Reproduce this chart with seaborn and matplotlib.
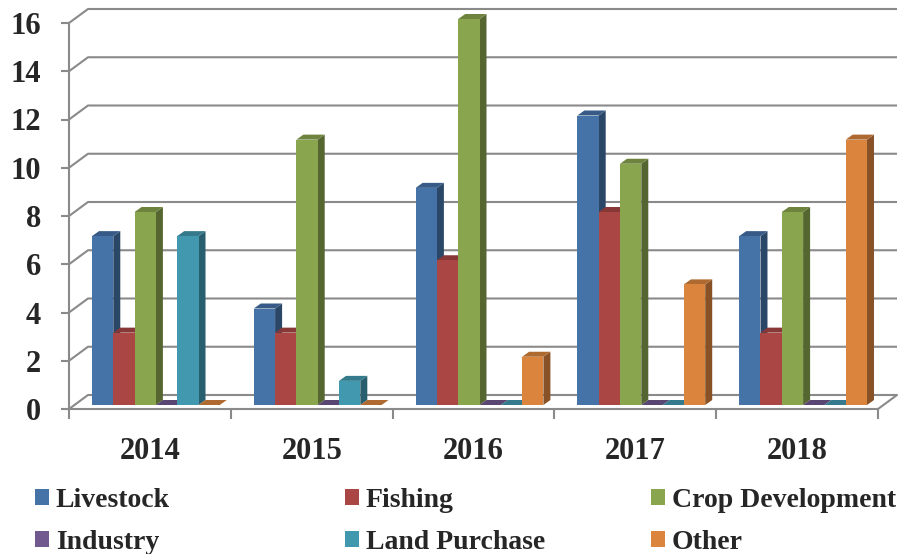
import pandas as pd
import numpy as np
import matplotlib
matplotlib.use('Agg')
import matplotlib.pyplot as plt
from matplotlib.patches import Polygon, Patch
from matplotlib.transforms import ScaledTranslation
import seaborn as sns

# Data
years = ['2014', '2015', '2016', '2017', '2018']
series = ['Livestock', 'Fishing', 'Crop Development', 'Industry', 'Land Purchase', 'Other']
livestock = [7, 4, 9, 12, 7]
fishing = [3, 3, 6, 8, 3]
crop_development = [8, 11, 16, 10, 8]
industry = [0, 0, 0, 0, 0]
land_purchase = [7, 1, 0, 0, 0]
other = [0, 0, 2, 5, 11]
colors = ['#4572A7', '#AA4643', '#89A54E', '#71588F', '#4198AF', '#DB843D']

values = [livestock, fishing, crop_development, industry, land_purchase, other]
df = pd.DataFrame({
    'Year': np.repeat([years], len(series), axis=0).ravel(),
    'Series': np.repeat(series, len(years)),
    'Value': np.concatenate(values),
})

sns.set_style("white")
plt.rcParams['font.family'] = ['Liberation Serif', 'DejaVu Serif']
plt.rcParams['font.weight'] = 'bold'

W, H = 902, 554
fig = plt.figure(figsize=(W / 100, H / 100), dpi=100)
# front plane of the plot, in pixels
left, right, bottom, top = 69, 878, 409, 23
ax = fig.add_axes([left / W, 1 - bottom / H, (right - left) / W, (bottom - top) / H])

ax.set_xlim(-0.5, 4.5)
ax.set_ylim(0, 16)
sx = 5 / (right - left)      # data units per pixel in x
sy = 16 / (bottom - top)     # data units per pixel in y

grid_c = '#8a8a8a'
lw = 1.5

# 3D wall depth (pixels)
wall_dx, wall_dy = 19, 14
bar_off_x, bar_off_y = 6, 4
bar_dx, bar_dy = 7, 5

sns.barplot(data=df, x='Year', y='Value', hue='Series', hue_order=series,
            order=years, palette=colors, saturation=1, width=0.79,
            legend=False, ax=ax, linewidth=0)

# back-wall gridlines with slanted connectors
for v in range(0, 17, 2):
    ax.plot([-0.5, -0.5 + wall_dx * sx, 4.5 + wall_dx * sx],
            [v, v + wall_dy * sy, v + wall_dy * sy],
            color=grid_c, lw=lw, clip_on=False, zorder=1, solid_capstyle='butt')
# floor right edge
ax.plot([4.5, 4.5 + wall_dx * sx], [0, wall_dy * sy], color=grid_c, lw=lw,
        clip_on=False, zorder=1)


def shade(c, f):
    r, g, b = matplotlib.colors.to_rgb(c)
    return (r * f, g * f, b * f)


# give each bar a top and side face, shifted back from the front plane
patches = sorted(ax.patches, key=lambda p: p.get_x())
off = ScaledTranslation(bar_off_x / 100, bar_off_y / 100, fig.dpi_scale_trans)
for i, p in enumerate(patches):
    x0 = p.get_x() + bar_off_x * sx
    w = p.get_width()
    h = p.get_height()
    y0 = bar_off_y * sy
    col = p.get_facecolor()
    ddx, ddy = bar_dx * sx, bar_dy * sy
    z = 3 + i * 0.01
    p.set_transform(ax.transData + off)
    p.set_zorder(z + 0.005)
    p.set_clip_on(False)
    side = Polygon([(x0 + w, y0), (x0 + w + ddx, y0 + ddy),
                    (x0 + w + ddx, y0 + h + ddy), (x0 + w, y0 + h)],
                   closed=True, facecolor=shade(col, 0.62), edgecolor='none',
                   zorder=z, clip_on=False)
    topf = Polygon([(x0, y0 + h), (x0 + w, y0 + h), (x0 + w + ddx, y0 + h + ddy),
                    (x0 + ddx, y0 + h + ddy)],
                   closed=True, facecolor=shade(col, 0.8), edgecolor='none',
                   zorder=z, clip_on=False)
    ax.add_patch(side)
    ax.add_patch(topf)

# axes styling
for s in ['top', 'right']:
    ax.spines[s].set_visible(False)
for s in ['left', 'bottom']:
    ax.spines[s].set_color(grid_c)
    ax.spines[s].set_linewidth(lw)
    ax.spines[s].set_zorder(2)
ax.set_yticks(range(0, 17, 2))
ax.set_xticks(range(len(years)))
ax.set_xticklabels(years)
ax.set_xticks(np.arange(-0.5, 5, 1), minor=True)
ax.tick_params(axis='y', length=6, width=lw, color=grid_c, pad=14,
               labelsize=22, left=True)
ax.tick_params(axis='x', which='major', length=0, pad=20, labelsize=22)
ax.tick_params(axis='x', which='minor', length=7.5, width=lw, color=grid_c,
               bottom=True, direction='out')
for t in ax.get_xticklabels() + ax.get_yticklabels():
    t.set_fontweight('bold')
ax.set_xlabel('')
ax.set_ylabel('')
ax.grid(False)
ax.set_facecolor('none')

# legend: three columns, each its own legend so the gaps match
col_x = [35, 345, 651]
handles = [Patch(facecolor=c, edgecolor='none') for c in colors]
for k in range(3):
    idx = [k, k + 3]
    fig.legend([handles[j] for j in idx], [series[j] for j in idx],
               loc='upper left', bbox_to_anchor=(col_x[k] / W, 1 - 488 / H),
               frameon=False, borderpad=0, borderaxespad=0,
               handlelength=0.5, handleheight=0.5,
               handletextpad=0.25, labelspacing=0.62,
               prop={'family': 'Liberation Serif', 'weight': 'bold', 'size': 20})

plt.savefig('out.png', dpi=100)
plt.close()
